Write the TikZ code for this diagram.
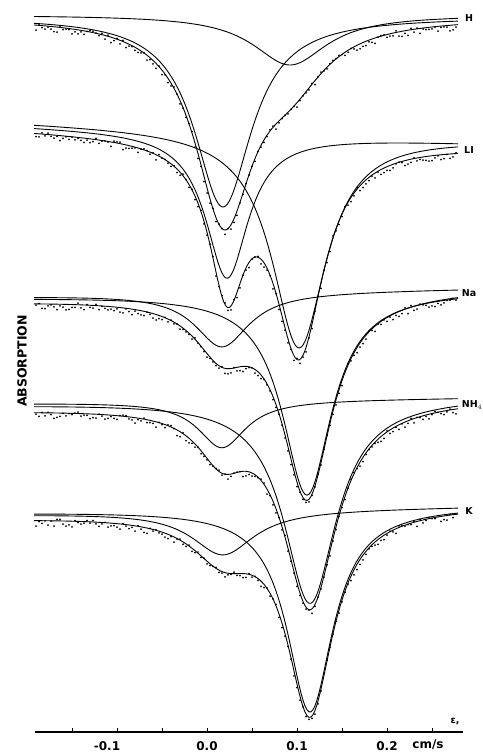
\documentclass[tikz,border=0pt]{standalone}
\usepackage{fontspec}
\setmainfont{DejaVu Sans}
\usetikzlibrary{positioning}

% one line of a spectrum: left base, right base, centre, width, depth
\newcommand{\comp}[5]{%
\draw[curve] plot[domain=34:458,samples=220] (\x,{#1+(#2-#1)*(\x-34)/424+#5/(1+((\x-#3)/#4)^2)});
}
% fitted sum of two lines, with the counts round it
\newcommand{\fit}[8]{%
\draw[curve] plot[domain=34:458,samples=220] (\x,{#1+(#2-#1)*(\x-34)/424+#5/(1+((\x-#3)/#4)^2)+#8/(1+((\x-#6)/#7)^2)});
\foreach \x in {36,39,...,456}{
\pgfmathsetmacro{\yy}{#1+(#2-#1)*(\x-34)/424+#5/(1+((\x-#3)/#4)^2)+#8/(1+((\x-#6)/#7)^2)+2+3.6*rand}
\fill (\x,\yy) circle (1pt);
}
}

\begin{document}
\begin{tikzpicture}[x=1pt,y=-1pt,
  curve/.style={line width=0.9pt},
  axis/.style={line width=1.2pt},
  tag/.style={font=\bfseries\fontsize{9.5}{10}\selectfont},
  num/.style={font=\bfseries\fontsize{12}{13}\selectfont}]
\useasboundingbox (0,0) rectangle (482,752);
\pgfmathsetseed{4711}

%H
\comp{15}{15}{290}{45}{50}
\comp{17}{17}{223}{35}{190}
\fit{17}{17}{224}{35}{197}{290}{45}{50}
\node[tag] (tH) at (469,18) {H};

%Li
\comp{122}{138}{299}{33}{216}
\comp{126}{142}{227}{26}{145}
\fit{129}{145}{227}{22}{140}{299}{30}{209}
\node[tag] (tLi) at (469,150) {LI};

%Na
\comp{296}{289}{222}{33}{54}
\comp{297}{291}{307}{30}{202}
\fit{300}{289}{222}{33}{50}{307}{30}{201}
\node[tag] (tNa) at (469,293) {Na};

%NH4
\comp{403}{398}{222}{29}{47}
\comp{404}{397}{310}{32}{204}
\fit{409}{399}{222}{29}{45}{310}{32}{203}
\node[tag] (tNH) at (472,405) {NH$_4$};

%K
\comp{514}{507}{223}{38}{44}
\comp{512}{506}{310}{28}{204}
\fit{517}{506}{223}{38}{41}{310}{28}{201}
\node[tag] (tK) at (469,511) {K};

%Axis
\draw[axis] (35,732) -- (463,732);
\foreach \t in {72,117,...,432}
\draw[line width=0.8pt] (\t,732) -- (\t,728);
\node[num] (lm1) at (107,746) {-0.1};
\node[num] (l0) at (207,746) {0.0};
\node[num] (l1) at (297,746) {0.1};
\node[num] (l2) at (387,746) {0.2};
\node[num] (unit) at (428,745) {cm/s};
\node[tag] (eps) at (455,722) {ε,};
\node[rotate=90,font=\bfseries\fontsize{12.5}{13}\selectfont] (abs) at (22,361) {ABSORPTION};
\end{tikzpicture}
\end{document}
